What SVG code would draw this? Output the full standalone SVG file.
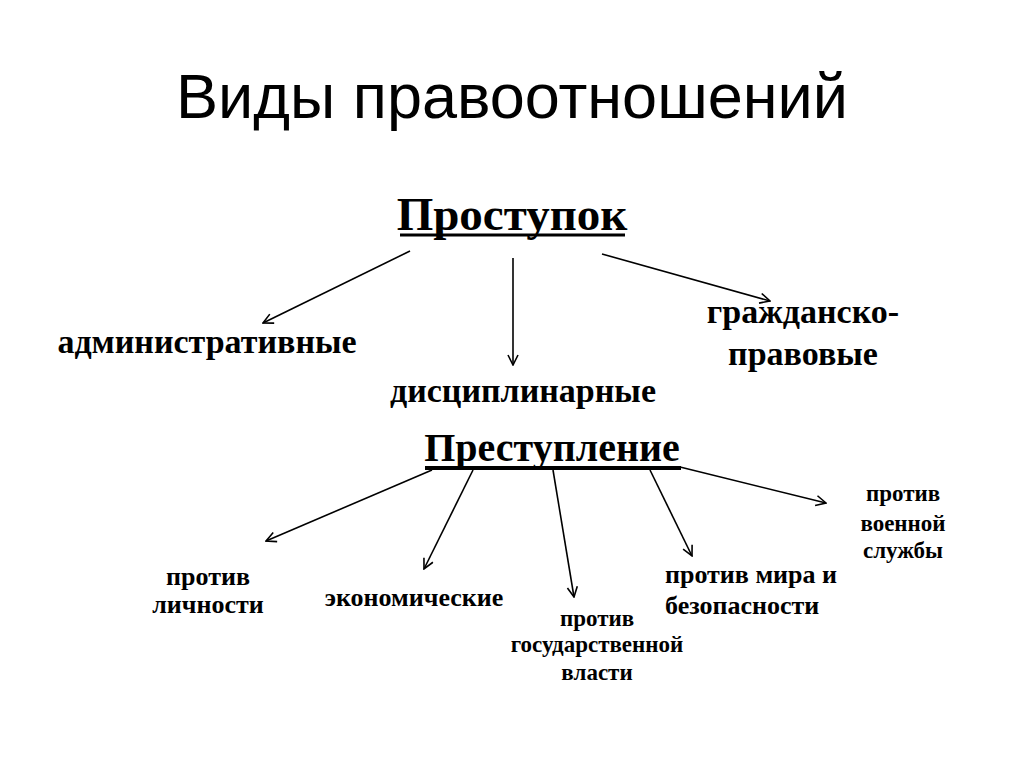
<svg xmlns="http://www.w3.org/2000/svg" width="1024" height="767" viewBox="0 0 1024 767">
<style>
.t{font-family:"Liberation Serif","Times New Roman",serif;font-weight:bold;fill:#000;text-anchor:middle}
.title{font-family:"Liberation Sans",Arial,sans-serif;font-size:63px;fill:#000}
.c line{stroke:#000;stroke-width:1.6;marker-end:url(#a)}
</style>
<defs>
<marker id="a" viewBox="0 0 12 12" refX="11" refY="6" markerWidth="12" markerHeight="12" markerUnits="userSpaceOnUse" orient="auto">
<path d="M1,1 L11,6 L1,11" fill="none" stroke="#000" stroke-width="1.6"/>
</marker>
</defs>
<rect width="1024" height="767" fill="#fff"/>
<text class="title" x="512" y="118" text-anchor="middle">Виды правоотношений</text>
<g id="n-prostupok">
<text class="t" x="512" y="230" font-size="47">Проступок</text>
<line x1="400" y1="235" x2="625" y2="235" stroke="#000" stroke-width="3"/>
</g>
<g id="n-admin"><text class="t" x="207" y="353" font-size="34">административные</text></g>
<g id="n-discip"><text class="t" x="523" y="402" font-size="34">дисциплинарные</text></g>
<g id="n-grazhd"><text class="t" x="803" y="323" font-size="34">гражданско-</text><text class="t" x="803" y="365" font-size="34">правовые</text></g>
<g id="n-prestuplenie">
<text class="t" x="552" y="461" font-size="40">Преступление</text>
<line x1="425" y1="468" x2="681" y2="468" stroke="#000" stroke-width="4"/>
</g>
<g id="n-lichnost"><text class="t" x="208" y="585" font-size="26">против</text><text class="t" x="208" y="613" font-size="26">личности</text></g>
<g id="n-econ"><text class="t" x="414" y="606" font-size="26">экономические</text></g>
<g id="n-gos"><text class="t" x="597" y="626" font-size="23">против</text><text class="t" x="597" y="652" font-size="23">государственной</text><text class="t" x="597" y="680" font-size="23">власти</text></g>
<g id="n-mir"><text class="t" x="665" y="583" font-size="26" style="text-anchor:start">против мира и</text><text class="t" x="665" y="614" font-size="26" style="text-anchor:start">безопасности</text></g>
<g id="n-voen"><text class="t" x="903" y="501" font-size="23">против</text><text class="t" x="903" y="531" font-size="23">военной</text><text class="t" x="903" y="558" font-size="23">службы</text></g>
<g id="connectors" class="c">
<line x1="410" y1="251" x2="263" y2="323"/>
<line x1="513" y1="258" x2="513" y2="365"/>
<line x1="602" y1="254" x2="770" y2="301"/>
<line x1="432" y1="470" x2="266" y2="541"/>
<line x1="473" y1="470" x2="424" y2="569"/>
<line x1="553" y1="470" x2="574" y2="597"/>
<line x1="650" y1="470" x2="692" y2="556"/>
<line x1="680" y1="467" x2="826" y2="503"/>
</g>
</svg>
